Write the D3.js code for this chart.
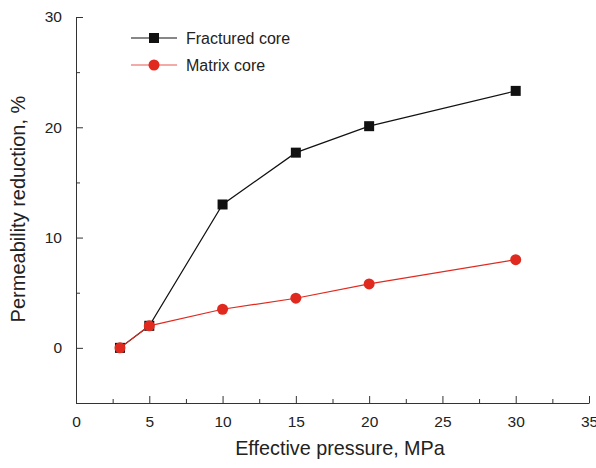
<!DOCTYPE html>
<html>
<head>
<meta charset="UTF-8">
<script src="https://d3js.org/d3.v7.min.js"></script>
<style>
  body { margin: 0; background: #fff; font-family: "Liberation Sans", Arial, sans-serif; }
  svg { display: block; }
  .tick text { font-size: 15.5px; fill: #222; }
</style>
</head>
<body>
<svg width="596" height="468"></svg>
<script>
  const pressure = [3, 5, 10, 15, 20, 30];
  const fractured = [0, 2, 13, 17.7, 20.1, 23.3];
  const matrix = [0, 2, 3.5, 4.5, 5.8, 8];
  const seriesNames = ["Fractured core", "Matrix core"];
  const xTicks = [0, 5, 10, 15, 20, 25, 30, 35];
  const yTicks = [0, 10, 20, 30];

  const svg = d3.select("svg");
  const x = d3.scaleLinear().domain([0, 35]).range([76, 589]);
  const y = d3.scaleLinear().domain([-5, 30]).range([403, 17]);
  const red = "#e02a1f";

  // minor ticks
  svg.append("g")
    .attr("transform", "translate(0,403)")
    .call(d3.axisBottom(x).tickValues(d3.range(2.5, 35, 5)).tickSize(-4).tickFormat(""))
    .call(g => g.select(".domain").remove());
  svg.append("g")
    .attr("transform", "translate(76,0)")
    .call(d3.axisLeft(y).tickValues([-5, 5, 15, 25]).tickSize(-4).tickFormat(""))
    .call(g => g.select(".domain").remove());

  svg.append("g")
    .attr("transform", "translate(0,403)")
    .call(d3.axisBottom(x).tickValues(xTicks).tickSize(-7).tickPadding(13).tickSizeOuter(0));
  svg.append("g")
    .attr("transform", "translate(76,0)")
    .call(d3.axisLeft(y).tickValues(yTicks).tickSize(-7).tickPadding(14).tickSizeOuter(0));
  svg.selectAll(".domain, .tick line").attr("stroke", "#333");

  svg.append("text")
    .attr("x", 340).attr("y", 455)
    .attr("text-anchor", "middle")
    .attr("font-size", 19.8).attr("fill", "#222")
    .text("Effective pressure, MPa");
  svg.append("text")
    .attr("transform", "translate(25,209) rotate(-90)")
    .attr("text-anchor", "middle")
    .attr("font-size", 20).attr("fill", "#222")
    .text("Permeability reduction, %");

  const line = d3.line().x(d => x(d[0])).y(d => y(d[1]));
  const fData = pressure.map((p, i) => [p, fractured[i]]);
  const mData = pressure.map((p, i) => [p, matrix[i]]);

  svg.append("path").datum(fData)
    .attr("d", line).attr("fill", "none").attr("stroke", "#111").attr("stroke-width", 1.2);
  svg.append("g").selectAll("rect").data(fData).join("rect")
    .attr("x", d => x(d[0]) - 5).attr("y", d => y(d[1]) - 5)
    .attr("width", 10).attr("height", 10).attr("fill", "#111");

  svg.append("path").datum(mData)
    .attr("d", line).attr("fill", "none").attr("stroke", red).attr("stroke-width", 1.2);
  svg.append("g").selectAll("circle").data(mData).join("circle")
    .attr("cx", d => x(d[0])).attr("cy", d => y(d[1])).attr("r", 5.5).attr("fill", red);

  // legend
  const lg = svg.append("g");
  lg.append("line").attr("x1", 131).attr("x2", 177).attr("y1", 38).attr("y2", 38)
    .attr("stroke", "#111").attr("stroke-width", 1.2);
  lg.append("rect").attr("x", 149).attr("y", 33).attr("width", 10).attr("height", 10).attr("fill", "#111");
  lg.append("line").attr("x1", 131).attr("x2", 177).attr("y1", 65).attr("y2", 65)
    .attr("stroke", "#ee8f88").attr("stroke-width", 1.5);
  lg.append("circle").attr("cx", 154).attr("cy", 65).attr("r", 5.5).attr("fill", red);
  lg.selectAll("text").data(seriesNames).join("text")
    .attr("x", 186).attr("y", (d, i) => 43.5 + i * 27)
    .attr("font-size", 16).attr("fill", "#222")
    .text(d => d);
</script>
</body>
</html>
